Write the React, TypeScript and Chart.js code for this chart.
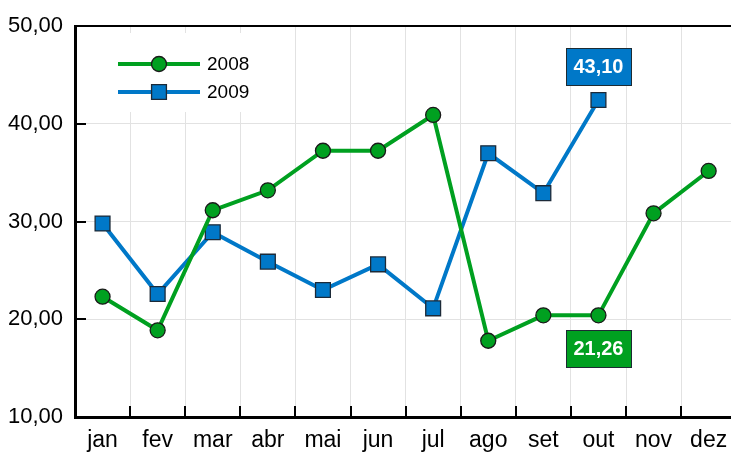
import React, { useEffect, useRef } from "react";
import { Chart, registerables } from "chart.js";

Chart.register(...registerables);

const months = ["jan", "fev", "mar", "abr", "mai", "jun", "jul", "ago", "set", "out", "nov", "dez"];
const seriesNames = ["2008", "2009"];
const values2008 = [22.31, 18.87, 31.15, 33.19, 37.24, 37.24, 40.9, 17.8, 20.4, 20.4, 30.84, 35.17];
const values2009 = [29.8, 22.58, 28.9, 25.89, 22.99, 25.62, 21.12, 36.98, 32.9, 42.43, null, null];
const yMin = 10;
const yMax = 50;
const yStep = 10;
const calloutSeries = [0, 1];
const calloutMonths = ["out", "out"];
const calloutTexts = ["21,26", "43,10"];

const GREEN = "#00a020";
const BLUE = "#0078c8";
const FONT = "'Liberation Sans', Arial, sans-serif";

const overlayPlugin = {
  id: "overlay",
  beforeDatasetsDraw(chart: any) {
    const { ctx, chartArea } = chart;
    const xs = chart.scales.x;
    const ys = chart.scales.y;
    ctx.save();
    ctx.fillStyle = "#ffffff";
    ctx.fillRect(chartArea.left + 30, chartArea.top + 7, 157, 79);
    ctx.strokeStyle = "#000";
    ctx.lineWidth = 2;
    ctx.beginPath();
    ctx.moveTo(chartArea.left, chartArea.top);
    ctx.lineTo(chartArea.right, chartArea.top);
    ctx.stroke();
    ctx.lineWidth = 2;
    for (let v = yMin + yStep; v < yMax; v += yStep) {
      const y = Math.round(ys.getPixelForValue(v));
      ctx.beginPath();
      ctx.moveTo(chartArea.left, y);
      ctx.lineTo(chartArea.left + 11, y);
      ctx.stroke();
    }
    for (let i = 1; i < months.length; i++) {
      const x = Math.round((xs.getPixelForValue(i - 1) + xs.getPixelForValue(i)) / 2);
      ctx.beginPath();
      ctx.moveTo(x, chartArea.bottom);
      ctx.lineTo(x, chartArea.bottom - 11);
      ctx.stroke();
    }
    ctx.restore();
  },
  afterDatasetsDraw(chart: any) {
    const { ctx, chartArea } = chart;
    ctx.save();
    const lx = chartArea.left + 43;
    const rows = [chartArea.top + 38, chartArea.top + 66];
    chart.data.datasets.forEach((ds: any, i: number) => {
      const y = rows[i];
      ctx.strokeStyle = ds.borderColor;
      ctx.lineWidth = 4;
      ctx.beginPath();
      ctx.moveTo(lx, y);
      ctx.lineTo(lx + 82, y);
      ctx.stroke();
      ctx.fillStyle = ds.pointBackgroundColor;
      ctx.strokeStyle = ds.pointBorderColor;
      ctx.lineWidth = 1.3;
      const cx = lx + 41;
      ctx.beginPath();
      if (ds.pointStyle === "circle") {
        ctx.arc(cx, y, ds.pointRadius, 0, Math.PI * 2);
      } else {
        const s = ds.pointRadius * Math.SQRT1_2;
        ctx.rect(cx - s, y - s, 2 * s, 2 * s);
      }
      ctx.fill();
      ctx.stroke();
      ctx.fillStyle = "#000";
      ctx.font = `19px ${FONT}`;
      ctx.textAlign = "left";
      ctx.textBaseline = "middle";
      ctx.fillText(ds.label, lx + 89, y + 1);
    });
    calloutTexts.forEach((txt, k) => {
      const si = calloutSeries[k];
      const idx = months.indexOf(calloutMonths[k]);
      const pt = chart.getDatasetMeta(si).data[idx];
      const ds = chart.data.datasets[si];
      const w = 65;
      const h = 37;
      const cy = si === 0 ? pt.y + 33 : pt.y - 33.5;
      const x0 = Math.round(pt.x - w / 2) + 0.5;
      const y0 = Math.round(cy - h / 2) + 0.5;
      ctx.fillStyle = ds.borderColor;
      ctx.fillRect(x0, y0, w, h);
      ctx.strokeStyle = "#1d2b33";
      ctx.lineWidth = 1;
      ctx.strokeRect(x0, y0, w, h);
      ctx.fillStyle = "#fff";
      ctx.font = `bold 20px ${FONT}`;
      ctx.textAlign = "center";
      ctx.textBaseline = "middle";
      ctx.fillText(txt, pt.x, cy + 1);
    });
    ctx.restore();
  },
};

export default function App() {
  const ref = useRef<HTMLCanvasElement | null>(null);
  useEffect(() => {
    if (!ref.current) return;
    const chart = new Chart(ref.current, {
      type: "line",
      data: {
        labels: months,
        datasets: [
          {
            label: seriesNames[0],
            data: values2008,
            borderColor: GREEN,
            backgroundColor: GREEN,
            pointBackgroundColor: GREEN,
            pointBorderColor: "#1a1a1a",
            pointBorderWidth: 1.3,
            pointStyle: "circle",
            pointRadius: 7.5,
            borderWidth: 4,
            tension: 0,
          } as any,
          {
            label: seriesNames[1],
            data: values2009,
            borderColor: BLUE,
            backgroundColor: BLUE,
            pointBackgroundColor: BLUE,
            pointBorderColor: "#1c2a38",
            pointBorderWidth: 1.3,
            pointStyle: "rect",
            pointRadius: 10.5,
            borderWidth: 4,
            tension: 0,
          } as any,
        ],
      },
      options: {
        responsive: false,
        animation: false,
        devicePixelRatio: 1,
        layout: { padding: { top: 26, right: 4, left: 0, bottom: 0 } },
        plugins: { legend: { display: false }, tooltip: { enabled: false } },
        scales: {
          x: {
            type: "category",
            offset: true,
            grid: {
              offset: true,
              drawTicks: false,
              color: (c: any) => (c.index === 0 ? "rgba(0,0,0,0)" : "#e2e2e2"),
              lineWidth: 1,
            },
            border: { display: true, color: "#000", width: 3 },
            ticks: { color: "#000", font: { family: FONT, size: 23 }, padding: 10, maxRotation: 0, autoSkip: false },
            afterFit: (s: any) => {
              s.height = 37;
            },
          },
          y: {
            min: yMin,
            max: yMax,
            grid: {
              drawTicks: false,
              color: (c: any) => (c.tick && (c.tick.value === yMin || c.tick.value === yMax) ? "rgba(0,0,0,0)" : "#e2e2e2"),
              lineWidth: 1,
            },
            border: { display: true, color: "#000", width: 3 },
            ticks: {
              stepSize: yStep,
              color: "#000",
              font: { family: FONT, size: 22 },
              padding: 12,
              callback: (v: any) => Number(v).toFixed(2).replace(".", ","),
            },
            afterFit: (s: any) => {
              s.width = 75;
            },
          },
        },
      },
      plugins: [overlayPlugin],
    });
    return () => chart.destroy();
  }, []);
  return (
    <div style={{ position: "absolute", left: 0, top: 0, width: 731, height: 454, overflow: "hidden", background: "#fff" }}>
      <canvas ref={ref} width={748} height={454} style={{ display: "block" }} />
    </div>
  );
}
